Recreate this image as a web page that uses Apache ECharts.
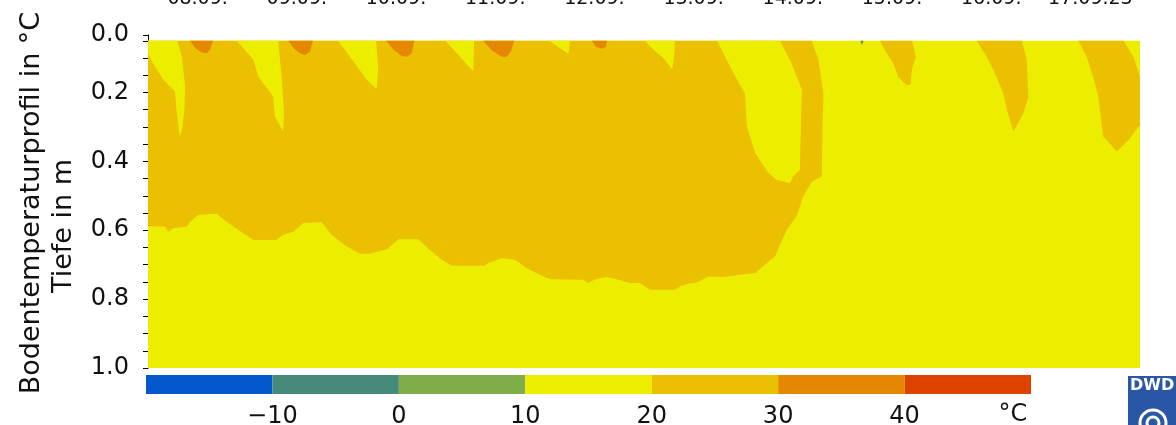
<!DOCTYPE html>
<html lang="de">
<head>
<meta charset="UTF-8">
<title>Bodentemperaturprofil</title>
<script src="https://cdn.jsdelivr.net/npm/echarts@6/dist/echarts.min.js"></script>
<style>
  html, body { margin: 0; padding: 0; background: #fff; }
  #main { width: 1176px; height: 425px; }
</style>
</head>
<body>
<div id="main"></div>
<script type="text/javascript">
    // Zeitachse in Stunden ab 08.09. 00:00, Tiefe in m
    var dayLabels = ['08.09.', '09.09.', '10.09.', '11.09.', '12.09.', '13.09.', '14.09.', '15.09.', '16.09.', '17.09.23'];
    var dayNoon = [12, 36, 60, 84, 108, 132, 156, 180, 204, 228];
    var depthLabels = [0.033, 0.2, 0.4, 0.6, 0.8, 1.0];
    var depthTicks = [0.033, 0.05, 0.1, 0.15, 0.2, 0.25, 0.3, 0.35, 0.4, 0.45, 0.5, 0.55, 0.6, 0.65, 0.7, 0.75, 0.8, 0.85, 0.9, 0.95, 1.0];

    // Farbskala (Klassengrenzen in °C)
    var tempLevels = [-20, -10, 0, 10, 20, 30, 40, 50];
    var tempColors = ['#0058cc', '#468a7a', '#80ad4a', '#eded00', '#ebc000', '#e38800', '#dc4400'];
    var tempTickLabels = [-10, 0, 10, 20, 30, 40];

    // Isothermen-Flaechen: [Stunde, Tiefe]
    var area10to20 = [[0, 0.05], [240, 0.05], [240, 1.0], [0, 1.0]];
    var area20to30 = [[0, 0.05], [160.6, 0.05], [162.2, 0.105], [163.4, 0.202], [163.2, 0.308], [163.0, 0.444],
        [160.6, 0.459], [158.5, 0.502], [156.9, 0.560], [154.5, 0.599], [151.7, 0.676], [149.7, 0.695],
        [146.9, 0.724], [143.2, 0.729], [139.2, 0.736], [135.6, 0.734], [132.8, 0.752], [130.7, 0.755],
        [128.7, 0.763], [127.5, 0.773], [121.5, 0.773], [119.0, 0.753], [116.6, 0.753], [113.4, 0.742],
        [111.0, 0.736], [108.2, 0.742], [106.5, 0.753], [105.3, 0.744], [97.3, 0.742], [94.8, 0.729],
        [91.6, 0.710], [88.8, 0.686], [85.6, 0.681], [82.3, 0.695], [81.5, 0.703], [73.5, 0.703],
        [71.1, 0.686], [68.2, 0.657], [65.4, 0.626], [60.6, 0.626], [57.8, 0.655], [53.7, 0.668],
        [51.3, 0.668], [48.1, 0.647], [44.4, 0.613], [42.0, 0.577], [37.6, 0.579], [35.2, 0.604],
        [32.7, 0.613], [31.1, 0.628], [25.5, 0.628], [21.9, 0.599], [19.0, 0.575], [16.6, 0.552],
        [12.2, 0.555], [10.2, 0.575], [9.4, 0.589], [6.1, 0.594], [4.9, 0.604], [4.1, 0.589], [0, 0.589]];
    var cool1 = [[0, 0.05], [0, 0.088], [1.7, 0.125], [3.7, 0.163], [6.5, 0.197], [6.9, 0.250], [7.7, 0.328],
        [8.2, 0.308], [8.8, 0.250], [9.0, 0.183], [8.2, 0.096], [7.1, 0.05]];
    var cool2 = [[21.5, 0.05], [25.5, 0.105], [26.7, 0.154], [30.3, 0.212], [30.7, 0.270], [32.7, 0.313],
        [32.9, 0.260], [32.4, 0.163], [31.5, 0.05]];
    var cool3 = [[46.0, 0.05], [49.7, 0.110], [52.9, 0.163], [55.3, 0.190], [55.7, 0.134], [55.2, 0.05]];
    var cool4 = [[71.9, 0.05], [75.5, 0.096], [78.7, 0.139], [78.9, 0.05]];
    var cool5 = [[97.1, 0.05], [101.7, 0.088], [102.1, 0.05]];
    var cool6 = [[120.2, 0.05], [122.3, 0.076], [124.7, 0.100], [126.3, 0.125], [126.8, 0.132], [127.2, 0.105], [127.5, 0.05]];
    var cool7 = [[137.7, 0.05], [140.2, 0.110], [142.5, 0.163], [144.4, 0.202], [144.9, 0.299], [146.9, 0.376],
        [150.1, 0.434], [152.1, 0.454], [155.3, 0.463], [156.1, 0.444], [157.7, 0.425], [158.2, 0.192],
        [155.7, 0.115], [152.9, 0.05]];
    var warm1 = [[177.1, 0.05], [178.7, 0.086], [180.3, 0.115], [181.5, 0.154], [183.6, 0.178], [184.5, 0.178],
        [184.8, 0.134], [185.8, 0.096], [184.8, 0.05]];
    var warm2 = [[200.5, 0.05], [203.3, 0.105], [204.9, 0.144], [206.9, 0.202], [207.8, 0.250], [209.4, 0.313],
        [211.8, 0.260], [213.0, 0.212], [212.6, 0.105], [211.4, 0.05]];
    var warm3 = [[225.1, 0.05], [227.1, 0.096], [229.1, 0.173], [229.9, 0.212], [231.1, 0.328], [234.4, 0.371],
        [237.6, 0.333], [239.6, 0.299], [240, 0.299], [240, 0.154], [238.4, 0.096], [236.0, 0.05]];
    var hot1 = [[10.2, 0.05], [11.4, 0.071], [13.0, 0.084], [14.2, 0.086], [15.0, 0.076], [15.7, 0.05]];
    var hot2 = [[33.9, 0.05], [35.2, 0.071], [36.8, 0.086], [38.0, 0.091], [39.2, 0.081], [39.9, 0.05]];
    var hot3 = [[57.6, 0.05], [59.4, 0.076], [61.4, 0.094], [62.6, 0.096], [63.8, 0.086], [64.4, 0.05]];
    var hot4 = [[81.1, 0.05], [83.2, 0.078], [85.6, 0.096], [86.8, 0.096], [87.8, 0.081], [88.6, 0.05]];
    var hot5 = [[107.4, 0.05], [108.4, 0.068], [109.8, 0.073], [110.8, 0.068], [111.0, 0.05]];
    var speck = [[172.4, 0.05], [172.7, 0.063], [173.1, 0.05]];

    // Reihenfolge = Zeichenreihenfolge, Wert = Klassenmitte in °C
    var areas = [
        [area10to20, 15], [area20to30, 25],
        [cool1, 15], [cool2, 15], [cool3, 15], [cool4, 15], [cool5, 15], [cool6, 15], [cool7, 15],
        [warm1, 25], [warm2, 25], [warm3, 25],
        [hot1, 35], [hot2, 35], [hot3, 35], [hot4, 35], [hot5, 35],
        [speck, -5]
    ];

    function colorFor(t) {
        for (var i = 0; i < tempColors.length; i++) {
            if (t >= tempLevels[i] && t < tempLevels[i + 1]) return tempColors[i];
        }
        return '#fff';
    }

    var font = 'DejaVu Sans';
    var txt = '#111';

    var myChart = echarts.init(document.getElementById('main'));

    var option = {
        animation: false,
        backgroundColor: '#fff',
        grid: [
            {left: 148, right: 36, top: 35, bottom: 57, outerBoundsMode: 'none'},
            {left: 146, top: 375, width: 885, height: 19, outerBoundsMode: 'none'}
        ],
        xAxis: [{
            type: 'value', gridIndex: 0, position: 'top', min: 0, max: 240,
            axisLine: {show: false}, axisTick: {show: false}, splitLine: {show: false},
            axisLabel: {
                customValues: dayNoon, margin: 26, fontSize: 19, fontFamily: font, color: txt,
                formatter: function (v) { return dayLabels[dayNoon.indexOf(v)]; }
            }
        }, {
            type: 'value', gridIndex: 1, min: -20, max: 50,
            axisLine: {show: false}, axisTick: {show: false}, splitLine: {show: false},
            axisLabel: {
                customValues: tempTickLabels, margin: 11, fontSize: 24, fontFamily: font, color: txt,
                formatter: function (v) { return v < 0 ? '\u2212' + Math.abs(v) : String(v); }
            }
        }],
        yAxis: [{
            type: 'value', gridIndex: 0, inverse: true, min: 0.033, max: 1.0,
            axisLine: {show: true, lineStyle: {color: '#000', width: 1}},
            axisTick: {show: true, customValues: depthTicks, length: 5, lineStyle: {color: '#000'}},
            splitLine: {show: false},
            axisLabel: {
                customValues: depthLabels, margin: 19, fontSize: 24, fontFamily: font, color: txt,
                formatter: function (v) { return v < 0.1 ? '0.0' : v.toFixed(1); }
            }
        }, {
            type: 'value', gridIndex: 1, min: 0, max: 1, show: false
        }],
        series: [{
            type: 'custom',
            xAxisIndex: 0, yAxisIndex: 0,
            silent: true,
            data: areas.map(function (a) { return [a[0][0][0], a[0][0][1], a[1]]; }),
            renderItem: function (params, api) {
                var a = areas[params.dataIndex];
                var pts = a[0].map(function (p) { return api.coord(p); });
                return {type: 'polygon', shape: {points: pts}, style: {fill: colorFor(a[1])}};
            }
        }, {
            type: 'custom',
            xAxisIndex: 1, yAxisIndex: 1,
            silent: true,
            data: tempColors.map(function (c, i) { return [tempLevels[i], tempLevels[i + 1]]; }),
            renderItem: function (params, api) {
                var p0 = api.coord([api.value(0), 1]);
                var p1 = api.coord([api.value(1), 0]);
                return {
                    type: 'rect',
                    shape: {x: p0[0], y: p0[1], width: p1[0] - p0[0], height: p1[1] - p0[1]},
                    style: {fill: tempColors[params.dataIndex]}
                };
            }
        }],
        graphic: [
            {type: 'text', x: 32, y: 203, rotation: Math.PI / 2,
                style: {text: 'Bodentemperaturprofil in °C', font: '27px "DejaVu Sans"', fill: txt, align: 'center', verticalAlign: 'middle'}},
            {type: 'text', x: 64, y: 226, rotation: Math.PI / 2,
                style: {text: 'Tiefe in m', font: '27px "DejaVu Sans"', fill: txt, align: 'center', verticalAlign: 'middle'}},
            {type: 'text', x: 1013, y: 415,
                style: {text: '°C', font: '24px "DejaVu Sans"', fill: txt, align: 'center', verticalAlign: 'middle'}},
            // DWD-Logo
            {type: 'rect', shape: {x: 1128, y: 376, width: 48, height: 49}, style: {fill: '#2a56a6'}},
            {type: 'text', x: 1130, y: 378,
                style: {text: 'DWD', font: 'bold 16px "DejaVu Sans"', fill: '#fff', align: 'left', verticalAlign: 'top'}},
            {type: 'circle', shape: {cx: 1153, cy: 423, r: 13}, style: {fill: 'none', stroke: '#fff', lineWidth: 3}},
            {type: 'circle', shape: {cx: 1153, cy: 423, r: 6}, style: {fill: 'none', stroke: '#fff', lineWidth: 3}}
        ]
    };

    myChart.setOption(option);
</script>
</body>
</html>
